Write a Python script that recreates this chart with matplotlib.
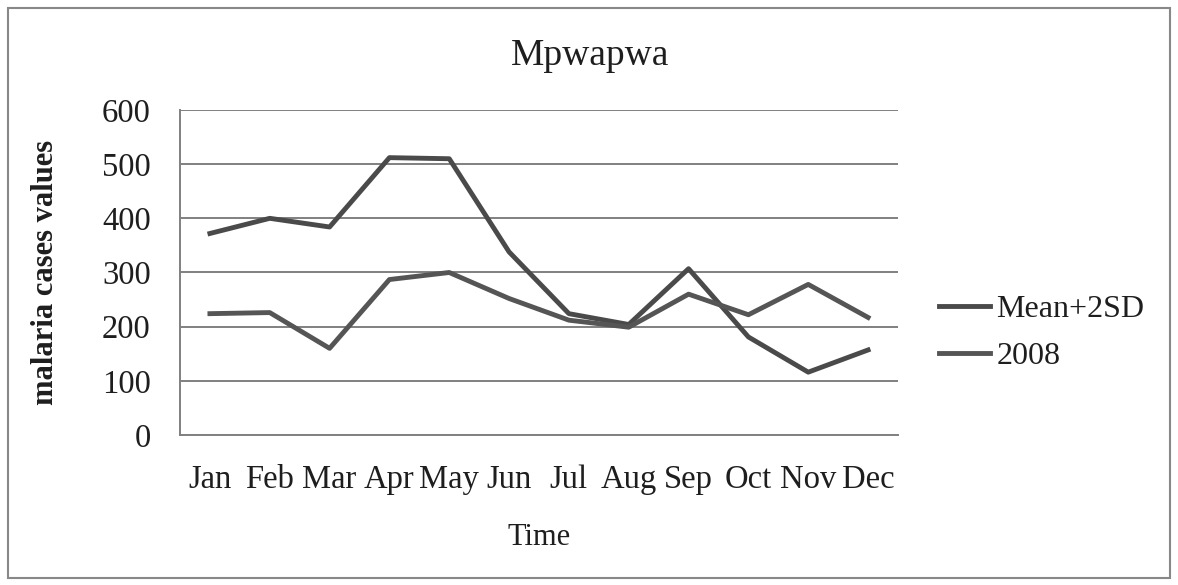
import matplotlib
matplotlib.use('Agg')
import matplotlib.pyplot as plt
from matplotlib.patches import Rectangle
import numpy as np

# Data
months = ['Jan', 'Feb', 'Mar', 'Apr', 'May', 'Jun', 'Jul', 'Aug', 'Sep', 'Oct', 'Nov', 'Dec']
mean_2sd = [372, 400, 384, 512, 510, 338, 224, 204, 307, 181, 116, 157]
cases_2008 = [224, 226, 160, 287, 300, 252, 212, 199, 260, 222, 278, 217]
yticks = [0, 100, 200, 300, 400, 500, 600]

plt.rcParams['font.family'] = ['Liberation Serif', 'DejaVu Serif']

fig = plt.figure(figsize=(11.78, 5.85), dpi=100)
ax = fig.add_axes([0.1528, 0.2564, 0.6095, 0.5556])

x = np.arange(len(months))
ax.plot(x, mean_2sd, color='#4a4a4a', lw=3.5, label='Mean+2SD')
ax.plot(x, cases_2008, color='#555555', lw=3.5, label='2008')

ax.set_xlim(-0.5, len(months) - 0.5)
ax.set_ylim(0, 600)
ax.set_yticks(yticks)
ax.set_xticks(x)
ax.set_xticklabels(months)
ax.tick_params(axis='both', length=0, labelsize=23.5, colors='#1e1e1e')
ax.tick_params(axis='y', pad=21)
ax.tick_params(axis='x', pad=21)
ax.yaxis.grid(True, color='#808080', lw=1.4)
ax.set_axisbelow(True)
for s in ['top', 'right']:
    ax.spines[s].set_visible(False)
for s in ['left', 'bottom']:
    ax.spines[s].set_color('#808080')
    ax.spines[s].set_linewidth(1.4)

ax.set_ylabel('malaria cases values', fontsize=22, fontweight='bold', color='#1e1e1e')
ax.yaxis.set_label_coords(-0.167, 0.5)
ax.set_xlabel('Time', fontsize=22, color='#1e1e1e')
ax.xaxis.set_label_coords(0.5, -0.27)
fig.text(0.501, 0.905, 'Mpwapwa', ha='center', va='center', fontsize=27, color='#1e1e1e')

ax.legend(loc='center left', bbox_to_anchor=(1.057, 0.314), frameon=False, fontsize=23,
          borderpad=0, borderaxespad=0, handlelength=1.6, handletextpad=0.2,
          labelspacing=0.55, labelcolor='#1e1e1e')

# chart area border
fig.patches.append(Rectangle((0.007, 0.012), 0.986, 0.975, transform=fig.transFigure,
                             fill=False, edgecolor='#888888', lw=1.5))

fig.savefig('out.png', dpi=100, facecolor='white')
plt.close(fig)
